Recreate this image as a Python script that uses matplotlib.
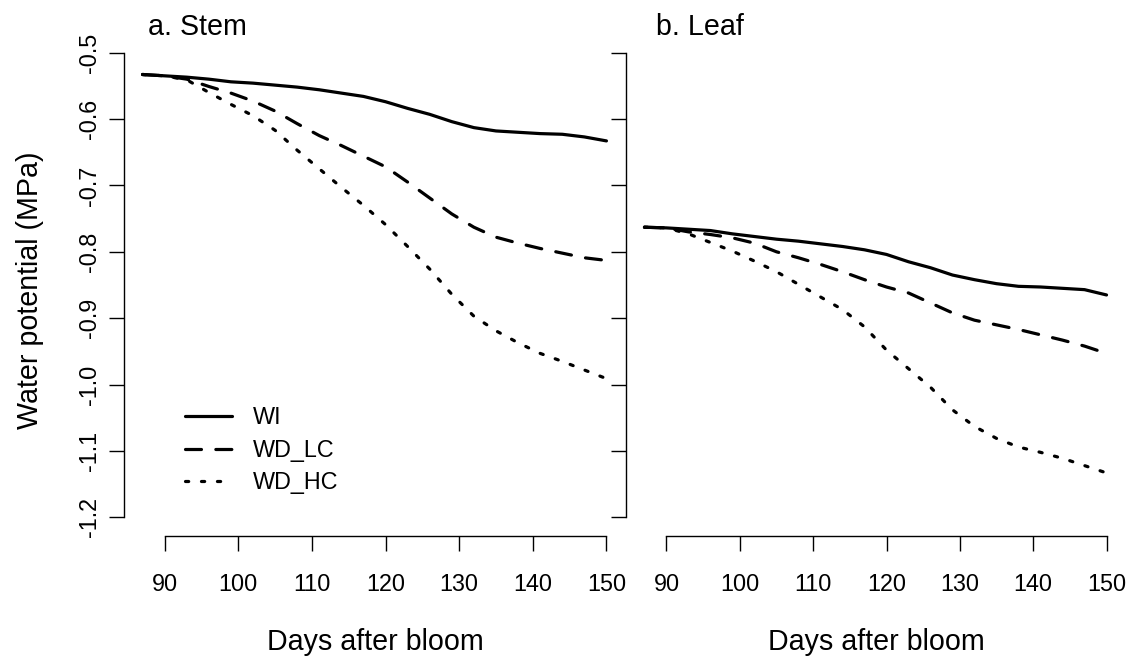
import matplotlib
matplotlib.use("Agg")
import matplotlib.pyplot as plt

plt.rcParams['font.family'] = ['Liberation Sans', 'DejaVu Sans']

# days after bloom
days = [87, 90, 93, 96, 99, 102, 105, 108, 111, 114, 117, 120,
        123, 126, 129, 132, 135, 138, 141, 144, 147, 150]

# stem water potential (MPa)
stem_wi = [-0.533, -0.535, -0.537, -0.540, -0.544, -0.546, -0.549, -0.552,
           -0.556, -0.561, -0.566, -0.574, -0.584, -0.593, -0.604, -0.613,
           -0.618, -0.620, -0.622, -0.623, -0.627, -0.633]
stem_wd_lc = [-0.533, -0.535, -0.540, -0.551, -0.561, -0.573, -0.588, -0.607,
              -0.625, -0.640, -0.656, -0.672, -0.695, -0.719, -0.743, -0.763,
              -0.778, -0.787, -0.795, -0.802, -0.809, -0.813]
stem_wd_hc = [-0.533, -0.535, -0.541, -0.560, -0.578, -0.595, -0.617, -0.647,
              -0.675, -0.703, -0.730, -0.759, -0.792, -0.826, -0.864, -0.897,
              -0.919, -0.937, -0.953, -0.965, -0.978, -0.991]

# leaf water potential (MPa)
leaf_wi = [-0.763, -0.764, -0.766, -0.768, -0.773, -0.777, -0.781, -0.784,
           -0.788, -0.792, -0.797, -0.804, -0.815, -0.824, -0.835, -0.842,
           -0.848, -0.852, -0.853, -0.855, -0.857, -0.865]
leaf_wd_lc = [-0.763, -0.764, -0.770, -0.774, -0.779, -0.787, -0.800, -0.809,
              -0.819, -0.830, -0.842, -0.853, -0.862, -0.877, -0.892, -0.903,
              -0.910, -0.917, -0.925, -0.933, -0.942, -0.953]
leaf_wd_hc = [-0.763, -0.764, -0.773, -0.786, -0.799, -0.814, -0.830, -0.849,
              -0.868, -0.887, -0.913, -0.948, -0.976, -1.004, -1.038, -1.063,
              -1.081, -1.094, -1.102, -1.111, -1.122, -1.133]

treatments = ["WI", "WD_LC", "WD_HC"]
x_ticks = [90, 100, 110, 120, 130, 140, 150]
y_ticks = [-0.5, -0.6, -0.7, -0.8, -0.9, -1.0, -1.1, -1.2]
y_tick_labels = ["-0.5", "-0.6", "-0.7", "-0.8", "-0.9", "-1.0", "-1.1", "-1.2"]

W, H = 1130, 657
fig = plt.figure(figsize=(W / 100, H / 100), dpi=100)

ax_stem = fig.add_axes([124 / W, 121 / H, 501 / W, 502 / H])
ax_leaf = fig.add_axes([626 / W, 121 / H, 499 / W, 502 / H])

styles = [
    dict(linestyle="-"),
    dict(linestyle=(0, (5, 4.5))),
    dict(linestyle=(0, (1.0, 4.0))),
]

LABEL_SIZE = 20.6
TICK_SIZE = 16.8


def draw_panel(ax, series, title, title_x):
    for vals, lab, st in zip(series, treatments, styles):
        ax.plot(days, vals, color="black", lw=2.3, label=lab,
                solid_capstyle="round", dash_capstyle="round", **st)
    ax.set_xlim(84.48, 152.52)
    ax.set_ylim(-1.228, -0.472)
    ax.spines["top"].set_visible(False)
    ax.spines["right"].set_visible(False)
    ax.spines["left"].set_bounds(-1.2, -0.5)
    ax.spines["bottom"].set_bounds(90, 150)
    for sp in ax.spines.values():
        sp.set_linewidth(1.0)
    ax.set_xticks(x_ticks)
    ax.set_yticks(y_ticks)
    ax.tick_params(direction="out", length=10.8, width=1.0,
                   labelsize=TICK_SIZE, colors="black")
    ax.tick_params(axis="x", pad=15.5)
    ax.tick_params(axis="y", pad=5.5, labelrotation=90)
    for lbl in ax.get_yticklabels():
        lbl.set_va("center")
    ax.text(title_x, 0.998, title, transform=ax.transAxes, fontsize=LABEL_SIZE,
            ha="left", va="baseline")


draw_panel(ax_stem, [stem_wi, stem_wd_lc, stem_wd_hc], "a. Stem", 0.048)
draw_panel(ax_leaf, [leaf_wi, leaf_wd_lc, leaf_wd_hc], "b. Leaf", 0.060)

ax_stem.set_yticklabels(y_tick_labels)
ax_leaf.set_yticklabels([])

ax_stem.legend(loc="upper left", bbox_to_anchor=(0.1218, 0.258),
               frameon=False, fontsize=TICK_SIZE, borderpad=0, borderaxespad=0,
               handlelength=2.0, handletextpad=0.9, labelspacing=0.40)

# shared axis titles
fig.text(30 / W, 1 - 290 / H, "Water potential (MPa)", rotation=90,
         ha="center", va="center", fontsize=LABEL_SIZE)
fig.text(375 / W, 7 / H, "Days after bloom", ha="center", va="baseline",
         fontsize=LABEL_SIZE)
fig.text(876 / W, 7 / H, "Days after bloom", ha="center", va="baseline",
         fontsize=LABEL_SIZE)

fig.savefig("out.png", dpi=100)
